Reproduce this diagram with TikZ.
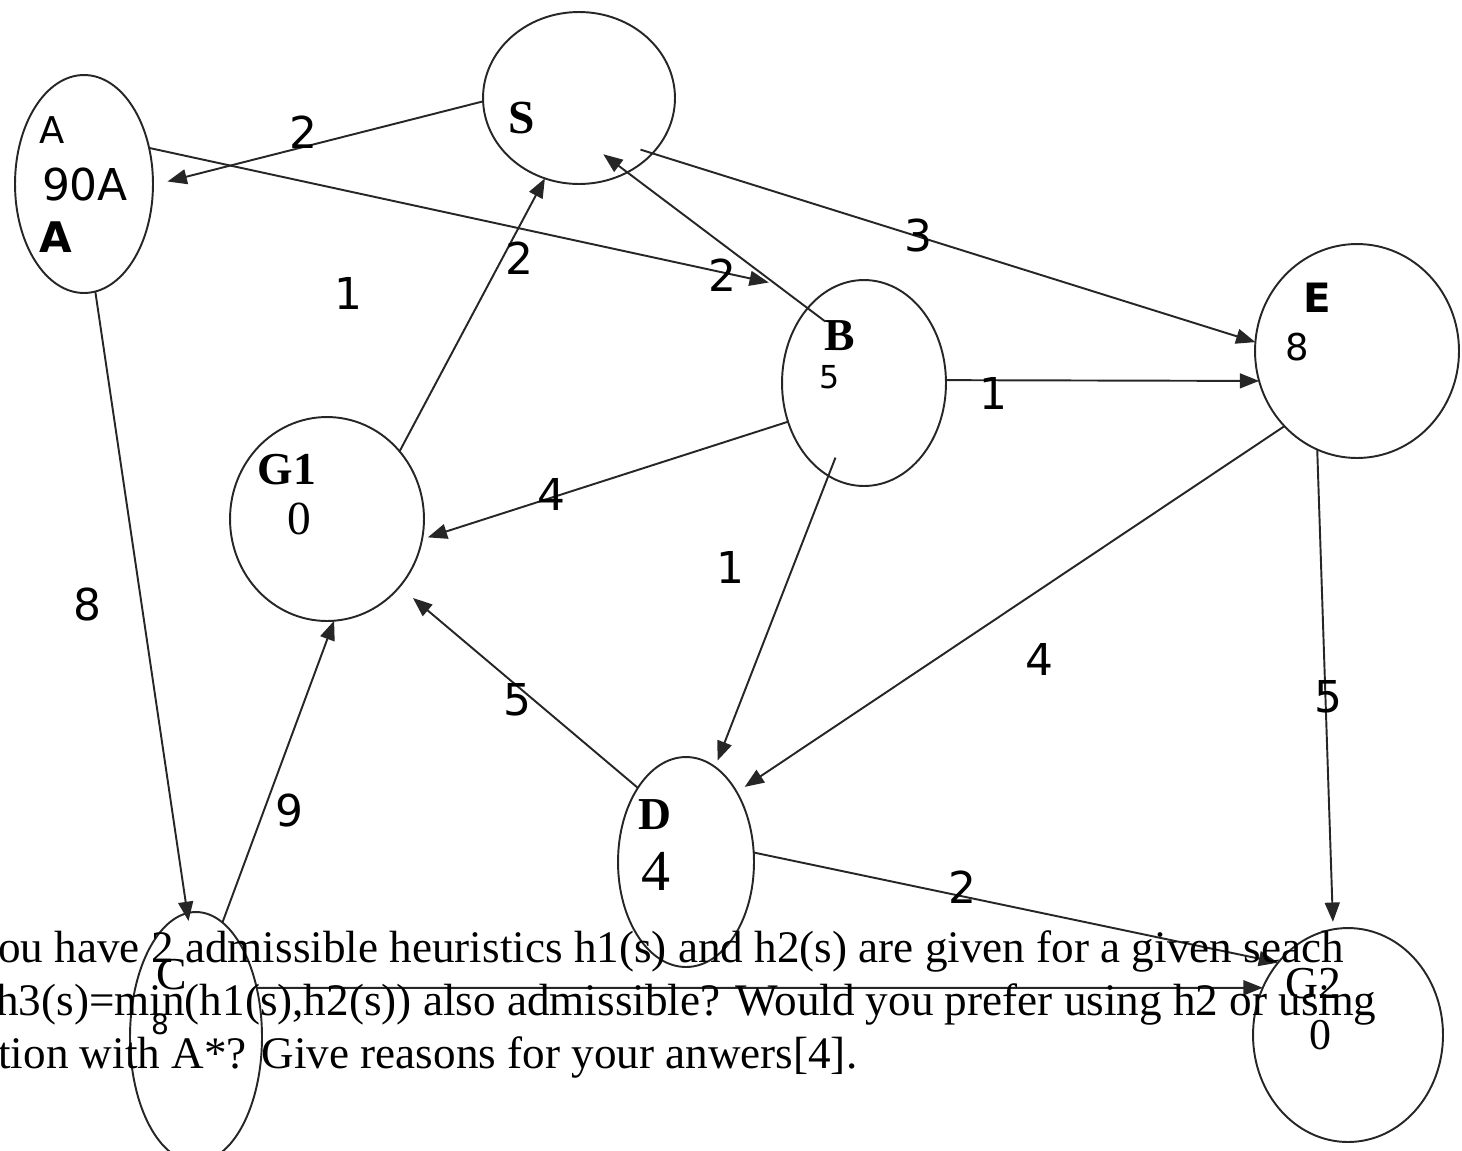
\documentclass[tikz,border=0pt]{standalone}
\usepackage{fontspec}
\setmainfont{Liberation Serif}
\newfontfamily\dvs{DejaVu Sans}
\newfontfamily\dvsb{DejaVu Sans Bold}
\usetikzlibrary{shapes.geometric,arrows.meta}
\begin{document}
\begin{tikzpicture}[x=0.02cm,y=-0.02cm,
  st/.style={draw=black!85,line width=1.1pt,ellipse,inner sep=0pt,outer sep=0pt},
  edge/.style={draw=black!85,line width=1.1pt,-{Triangle[length=11pt,width=8.5pt]}},
  elab/.style={font=\dvs\fontsize{25}{30}\selectfont,inner sep=0pt},
  txt/.style={inner sep=0pt,anchor=base west,font=\fontsize{25.7}{30}\selectfont}
]
\useasboundingbox (0,0) rectangle (1462,1150);
\clip (0,0) rectangle (1462,1150);
% nodes
\node[st,minimum width=3.84cm,minimum height=3.44cm] (S) at (579,98) {};
\node[st,minimum width=2.76cm,minimum height=4.36cm] (A) at (84,184) {};
\node[st,minimum width=3.28cm,minimum height=4.12cm] (B) at (864,383) {};
\node[st,minimum width=4.08cm,minimum height=4.28cm] (E) at (1357,351) {};
\node[st,minimum width=3.88cm,minimum height=4.08cm] (G1) at (327,519) {};
\node[st,minimum width=2.72cm,minimum height=4.20cm] (D) at (686,862) {};
\node[st,minimum width=2.64cm,minimum height=5.00cm] (C) at (196,1037) {};
\node[st,minimum width=3.80cm,minimum height=4.28cm] (G2) at (1348,1035) {};
% node texts
\node[inner sep=0pt,font=\bfseries\fontsize{27}{30}\selectfont] (tS) at (522,118) {S};
\node[inner sep=0pt,font=\dvs\fontsize{21}{24}\selectfont] (tA1) at (52,130) {A};
\node[inner sep=0pt,font=\dvs\fontsize{25}{30}\selectfont] (tA2) at (85,185) {90A};
\node[inner sep=0pt,font=\dvsb\fontsize{24}{30}\selectfont] (tA3) at (56,237) {A};
\node[inner sep=0pt,font=\bfseries\fontsize{26}{30}\selectfont] (tB1) at (840,336) {B};
\node[inner sep=0pt,font=\dvs\fontsize{18}{22}\selectfont] (tB2) at (830,377) {5};
\node[inner sep=0pt,font=\dvsb\fontsize{23}{28}\selectfont] (tE1) at (1317,298) {E};
\node[inner sep=0pt,font=\dvs\fontsize{21}{26}\selectfont] (tE2) at (1297,347) {8};
\node[inner sep=0pt,font=\bfseries\fontsize{26}{30}\selectfont] (tG11) at (287,470) {G1};
\node[inner sep=0pt,font=\fontsize{27}{30}\selectfont] (tG12) at (299,519) {0};
\node[inner sep=0pt,font=\bfseries\fontsize{26}{30}\selectfont] (tD1) at (655,815) {D};
\node[inner sep=0pt,font=\fontsize{33}{36}\selectfont] (tD2) at (656,871) {4};
\node[inner sep=0pt,font=\fontsize{26}{30}\selectfont] (tC1) at (172,975) {C};
\node[inner sep=0pt,font=\dvs\fontsize{16}{20}\selectfont] (tC2) at (160,1024) {8};
\node[inner sep=0pt,font=\fontsize{26}{30}\selectfont] (tG21) at (1313,984) {G2};
\node[inner sep=0pt,font=\fontsize{25}{30}\selectfont] (tG22) at (1320,1035) {0};
% edges
\draw[edge,shorten >=0.30cm] (S.182) -- (A.-1);
\draw[edge,shorten >=1.1cm] (A.29) -- (B.115);
\draw[edge,shorten >=-0.16cm] (A.276) -- (C.94);
\draw[edge] (G1.43) -- (S.247);
\draw[edge,shorten <=-0.44cm,shorten >=-0.60cm] (B.127) -- (S.303);
\draw[edge,shorten <=-0.25cm] (S.323) -- (E.175);
\draw[edge] (B.2) -- (E.197);
\draw[edge,shorten >=0.12cm] (B.207) -- (G1.348);
\draw[edge,shorten <=-0.39cm,shorten >=0.14cm] (B.249) -- (D.73);
\draw[edge,shorten >=0.19cm] (E.226) -- (D.54);
\draw[edge,shorten >=0.15cm] (E.248) -- (G2.98);
\draw[edge,shorten >=0.35cm] (D.123) -- (G1.317);
\draw[edge] (C.77) -- (G1.274);
\draw[edge] (D.8) -- (G2.134);
\draw[edge] (C.39) -- (G2.151);
% edge labels
\node[elab] (l1) at (303,132) {2};
\node[elab] (l2) at (722,275) {2};
\node[elab] (l3) at (87,604) {8};
\node[elab] (l4) at (519,258) {2};
\node[elab] (l5) at (918,236) {3};
\node[elab] (l6) at (993,393) {1};
\node[elab] (l7) at (551,494) {4};
\node[elab] (l8) at (730,567) {1};
\node[elab] (l9) at (1039,659) {4};
\node[elab] (l10) at (1328,697) {5};
\node[elab] (l11) at (517,700) {5};
\node[elab] (l12) at (289,810) {9};
\node[elab] (l13) at (962,887) {2};
\node[elab] (l14) at (348,293) {1};
% question text
\node[txt] (q1) at (-2,962) {ou have 2 admissible heuristics h1(s) and h2(s) are given for a given seach};
\node[txt] (q2) at (-4,1015) {h3(s)=min(h1(s),h2(s)) also admissible? Would you prefer using h2 or using};
\node[txt] (q3) at (-2,1068) {tion with A*? Give reasons for your anwers[4].};
\end{tikzpicture}
\end{document}
